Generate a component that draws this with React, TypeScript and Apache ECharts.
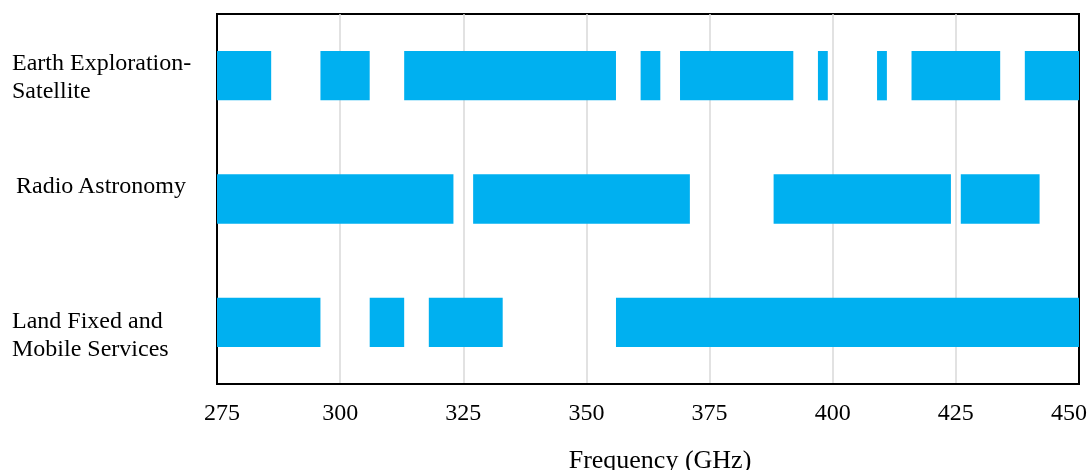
import React, { useEffect, useRef } from "react";
import * as echarts from "echarts";

const categories = [
  "Earth Exploration-\nSatellite",
  "Radio Astronomy",
  "Land Fixed and\nMobile Services",
];

// Frequency bands [start GHz, end GHz] per service
const eessBands: [number, number][] = [
  [275, 286], [296, 306], [313, 356], [361, 365], [369, 392],
  [397, 399], [409, 411], [416, 434], [439, 450],
];
const rasBands: [number, number][] = [
  [275, 323], [327, 371], [388, 424], [426, 442],
];
const lfmBands: [number, number][] = [
  [275, 296], [306, 313], [318, 333], [356, 450],
];

const xMin = 275;
const xMax = 450;
const xInterval = 25;
const xName = "Frequency (GHz)";

const FONT = "'Liberation Serif', 'Times New Roman', serif";
const BAR_COLOR = "#00B0F0";

export default function App() {
  const ref = useRef<HTMLDivElement>(null);

  useEffect(() => {
    if (!ref.current) return;
    const chart = echarts.init(ref.current, undefined, { renderer: "svg" });

    const allBands = [eessBands, rasBands, lfmBands];
    const data: number[][] = [];
    allBands.forEach((bands, ci) => {
      bands.forEach(([s, e]) => data.push([s, e, ci]));
    });

    const labelBase = {
      fontFamily: FONT,
      fontSize: 24,
      lineHeight: 28,
      color: "#000",
      align: "left",
      verticalAlign: "middle",
    };

    chart.setOption({
      animation: false,
      grid: {
        left: 217,
        right: 11,
        top: 14,
        bottom: 86,
        show: true,
        borderColor: "#000",
        borderWidth: 2,
        backgroundColor: "transparent",
        containLabel: false,
        outerBoundsMode: "none",
      },
      xAxis: {
        type: "value",
        min: xMin,
        max: xMax,
        interval: xInterval,
        name: "{n|" + xName + "}",
        nameLocation: "middle",
        nameGap: 62,
        nameTextStyle: {
          fontFamily: FONT,
          fontSize: 26,
          color: "#000",
          rich: {
            n: { fontFamily: FONT, fontSize: 26, color: "#000", padding: [0, 0, 0, 24] },
          },
        },
        axisLine: { show: true, lineStyle: { color: "#000", width: 2 } },
        axisTick: { show: false },
        axisLabel: {
          fontFamily: FONT,
          fontSize: 24,
          color: "#000",
          margin: 16,
          formatter: (v: number) =>
            v === xMin ? "{lo|" + v + "}" : v === xMax ? "{hi|" + v + "}" : String(v),
          rich: {
            lo: { fontFamily: FONT, fontSize: 24, color: "#000", padding: [0, 0, 0, 10] },
            hi: { fontFamily: FONT, fontSize: 24, color: "#000", padding: [0, 20, 0, 0] },
          },
        },
        splitLine: {
          show: true,
          showMinLine: false,
          showMaxLine: false,
          lineStyle: { color: "#d9d9d9", width: 1.5 },
        },
      },
      yAxis: {
        type: "category",
        inverse: true,
        data: categories,
        axisLine: { show: true, lineStyle: { color: "#000", width: 2 } },
        axisTick: { show: false },
        splitLine: { show: false },
        axisLabel: {
          ...labelBase,
          margin: 205,
          formatter: (v: string) => {
            if (v === categories[1]) return "{ind|" + v + "}\n{g1| }";
            if (v === categories[2]) return "{g2| }\n" + v;
            return v;
          },
          rich: {
            ind: { fontFamily: FONT, fontSize: 24, lineHeight: 28, color: "#000", padding: [0, 0, 0, 4] },
            g1: { fontSize: 10, lineHeight: 29 },
            g2: { fontSize: 10, lineHeight: 24 },
          },
        },
      },
      series: [
        {
          type: "custom",
          data,
          encode: { x: [0, 1], y: 2 },
          renderItem: (params: any, api: any) => {
            const cat = api.value(2);
            const start = api.coord([api.value(0), cat]);
            const end = api.coord([api.value(1), cat]);
            const h = api.size([0, 1])[1] * 0.4;
            const rect = echarts.graphic.clipRectByRect(
              { x: start[0], y: start[1] - h / 2, width: end[0] - start[0], height: h },
              {
                x: params.coordSys.x,
                y: params.coordSys.y,
                width: params.coordSys.width,
                height: params.coordSys.height,
              }
            );
            return rect && {
              type: "rect",
              shape: rect,
              style: { fill: BAR_COLOR },
            };
          },
        },
      ],
    });

    return () => chart.dispose();
  }, []);

  return (
    <div
      ref={ref}
      style={{ position: "fixed", left: 0, top: 0, width: 1090, height: 470 }}
    />
  );
}
